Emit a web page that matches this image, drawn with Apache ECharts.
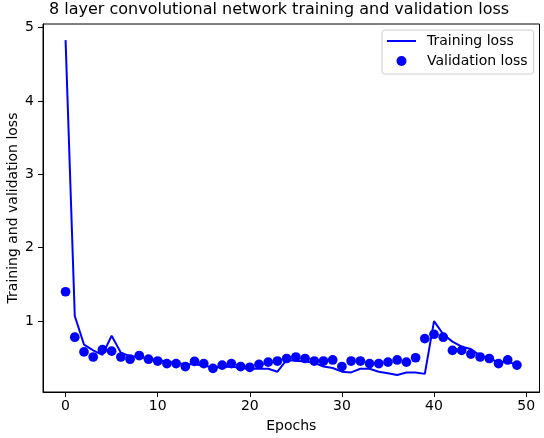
<!DOCTYPE html>
<html>
<head>
<meta charset="utf-8">
<script src="https://cdn.jsdelivr.net/npm/echarts@6/dist/echarts.min.js"></script>
<style>html,body{margin:0;padding:0;background:#fff}#c{width:544px;height:438px}</style>
</head>
<body>
<div id="c"></div>
<script>
var epochs = [];
for (var i = 0; i < 50; i++) epochs.push(i);
var trainingLoss = [4.83,1.07,0.68,0.60,0.54,0.80,0.57,0.52,0.51,0.49,
  0.47,0.45,0.43,0.41,0.41,0.39,0.37,0.37,0.38,0.36,
  0.35,0.35,0.35,0.31,0.47,0.46,0.45,0.43,0.38,0.36,
  0.31,0.30,0.35,0.35,0.31,0.29,0.265,0.30,0.30,0.28,
  1.00,0.82,0.72,0.65,0.62,0.53,0.49,0.44,0.45,0.40];
var validationLoss = [1.40,0.78,0.58,0.51,0.61,0.59,0.51,0.48,0.53,0.48,
  0.455,0.42,0.42,0.38,0.45,0.42,0.355,0.40,0.42,0.38,
  0.37,0.41,0.44,0.455,0.49,0.51,0.49,0.455,0.455,0.47,
  0.38,0.455,0.455,0.42,0.42,0.44,0.47,0.44,0.50,0.76,
  0.82,0.78,0.60,0.60,0.55,0.51,0.49,0.42,0.47,0.40];
var xTicks = [0,10,20,30,40,50];
var yTicks = [1,2,3,4,5];
var titleText = '8 layer convolutional network training and validation loss';
var xName = 'Epochs';
var yName = 'Training and validation loss';

var F = 'DejaVu Sans';
var chart = echarts.init(document.getElementById('c'), null, {renderer:'canvas'});
function pairs(v){ return v.map(function(y,i){return [epochs[i], y];}); }
chart.setOption({
  animation:false,
  backgroundColor:'#ffffff',
  title:{text:titleText,left:49,top:2,padding:0,textStyle:{fontFamily:F,fontSize:16,fontWeight:'normal',color:'#000'}},
  grid:{left:43,right:4.5,top:24,bottom:46,outerBoundsMode:'none',containLabel:false,show:true,borderColor:'#000',borderWidth:1,backgroundColor:'transparent'},
  legend:{orient:'vertical',left:382,top:30,padding:[3,6,5,4],itemGap:4,itemWidth:29,itemHeight:10,
    backgroundColor:'rgba(255,255,255,0.8)',borderColor:'#cccccc',borderWidth:1,borderRadius:3,
    textStyle:{fontFamily:F,fontSize:14,color:'#000',lineHeight:16,padding:[0,0,0,6]},
    data:[{name:'Training loss',itemStyle:{opacity:0}},{name:'Validation loss',icon:'circle'}]},
  xAxis:{type:'value',min:-2.45,max:51.45,name:xName,nameLocation:'middle',nameGap:27,nameMoveOverlap:false,
    nameTextStyle:{fontFamily:F,fontSize:14,color:'#000'},
    axisLine:{show:true,onZero:false,lineStyle:{color:'#000',width:1}},
    axisTick:{show:true,length:5,customValues:xTicks,lineStyle:{color:'#000'}},
    axisLabel:{customValues:xTicks,margin:7,fontFamily:F,fontSize:14,color:'#000'},
    splitLine:{show:false}},
  yAxis:{type:'value',min:0.033,max:5.05,name:yName,nameLocation:'middle',nameGap:23,nameMoveOverlap:false,
    nameTextStyle:{fontFamily:F,fontSize:14,color:'#000'},
    axisLine:{show:true,onZero:false,lineStyle:{color:'#000',width:1}},
    axisTick:{show:true,length:5,customValues:yTicks,lineStyle:{color:'#000'}},
    axisLabel:{customValues:yTicks,margin:9,fontFamily:F,fontSize:14,color:'#000'},
    splitLine:{show:false}},
  series:[
    {name:'Training loss',type:'line',data:pairs(trainingLoss),symbol:'none',showSymbol:false,
      itemStyle:{color:'#0000ff'},lineStyle:{color:'#0000ff',width:2},z:2},
    {name:'Validation loss',type:'scatter',data:pairs(validationLoss),symbol:'circle',symbolSize:9.7,
      itemStyle:{color:'#0000ff',opacity:1},z:3}
  ]
});
</script>
</body>
</html>
